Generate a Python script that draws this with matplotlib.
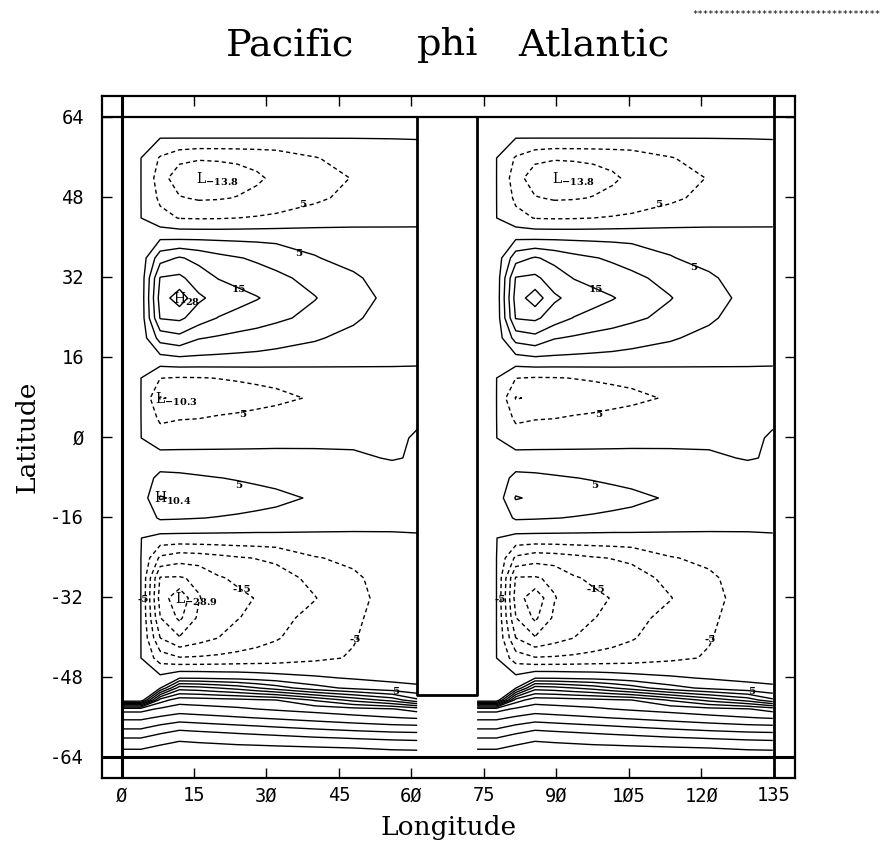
import numpy as np
import matplotlib.pyplot as plt

plt.rcParams['mathtext.fontset'] = 'dejavuserif'
plt.rcParams['lines.dashed_pattern'] = [3.0, 2.2]

# basin grid: longitude measured from the western boundary of each basin
lon = [0, 4, 8, 12, 16, 20, 24, 28, 32, 40, 48, 56, 61.2]
b = 0.05  # just above zero outside the gyres

lat_north = [63.8, 59.8]
phi_north = [
    [b, b, b, b, b, b, b, b, b, b, b, b, b],
    [b, b, b, b, b, b, b, b, b, b, b, b, b],
]

lat_subpolar = [55.8, 51.8, 47.8, 43.8]
phi_subpolar = [
    [b, b, -5.5, -8.5, -9.5, -9.4, -9.2, -8.8, -8.2, -5.3, -3.0, -1.2, -0.6],
    [b, b, -7.5, -13.3, -13.8, -13.0, -11.8, -10.6, -9.2, -6.8, -4.8, -2.2, -0.6],
    [b, b, -6.0, -9.6, -10.6, -10.4, -9.8, -9.0, -8.0, -5.8, -3.8, -1.6, -0.4],
    [b, b, -3.5, -5.2, -5.4, -5.3, -5.0, -4.6, -4.1, -3.0, -2.0, -0.9, -0.2],
]

lat_subtrop = [39.8, 35.8, 31.8, 27.8, 23.8, 19.8, 15.8]
phi_subtrop = [
    [b, 2, 4.3, 4.2, 4.2, 4.1, 4.0, 3.9, 3.7, 3.2, 2.4, 1.1, 0.25],
    [b, 2, 13.0, 15.5, 13.5, 11.5, 10.3, 9.3, 8.3, 5.3, 3.3, 1.5, 0.3],
    [b, 2, 20.3, 21.0, 17.5, 14.8, 13.2, 12.2, 11.0, 8.6, 5.8, 2.5, 0.4],
    [b, 2, 22.0, 28.0, 20.8, 18.5, 17.0, 15.3, 13.5, 10.2, 7.0, 3.6, 0.5],
    [b, 2, 20.3, 21.0, 17.5, 14.8, 13.2, 12.2, 11.0, 8.6, 5.8, 2.5, 0.4],
    [b, 2, 12.0, 13.5, 10.3, 9.4, 8.6, 7.9, 7.0, 5.5, 3.6, 1.6, 0.3],
    [b, 2, 3.5, 4.4, 4.2, 4.0, 3.8, 3.6, 3.3, 2.6, 1.8, 0.9, 0.2],
]

lat_trop_n = [11.8, 7.8, 3.8, -0.2]
phi_trop_n = [
    [b, b, -4.9, -5.3, -5.2, -4.9, -4.6, -4.3, -4.0, -3.2, -2.3, -1.2, -0.3],
    [b, b, -10.3, -9.3, -8.3, -7.6, -7.0, -6.4, -5.9, -4.6, -3.2, -1.6, -0.4],
    [b, b, -6.0, -5.3, -5.1, -4.6, -4.3, -3.9, -3.5, -2.7, -1.9, -1.0, -0.2],
    [b, b, -2.5, -2.2, -2.0, -1.8, -1.6, -1.4, -1.2, -0.9, -0.5, -0.3, 0.15],
]

lat_trop_s = [-4.2, -8.2, -12.2, -16.2]
phi_trop_s = [
    [b, 2, 1.7, 1.6, 1.5, 1.4, 1.3, 1.2, 1.1, 0.8, 0.35, -0.15, 0.2],
    [b, 2, 6.5, 6.2, 5.6, 5.1, 4.7, 4.3, 3.9, 3.0, 2.1, 1.1, 0.3],
    [b, 2, 10.4, 9.2, 8.3, 7.6, 7.0, 6.4, 5.9, 4.6, 3.2, 1.6, 0.4],
    [b, 2, 5.6, 5.4, 5.1, 4.8, 4.5, 4.2, 3.9, 3.0, 2.1, 1.1, 0.3],
]

lat_subtrop_s = [-20.2, -24.2, -28.2, -32.2, -36.2, -40.2, -44.2]
phi_subtrop_s = [
    [b, b, -1.5, -1.6, -1.6, -1.6, -1.6, -1.6, -1.5, -1.3, -1.0, -0.5, -0.1],
    [b, b, -11.0, -13.0, -12.5, -11.5, -10.5, -9.8, -9.0, -5.3, -4.0, -2.0, -0.4],
    [b, b, -20.4, -20.5, -19.0, -15.5, -14.2, -13.2, -12.2, -8.6, -5.8, -2.8, -0.5],
    [b, b, -22.0, -28.9, -20.3, -17.5, -16.0, -14.8, -13.5, -10.2, -6.5, -3.0, -0.5],
    [b, b, -19.8, -26.0, -19.0, -16.8, -15.2, -13.8, -11.3, -8.7, -5.8, -2.8, -0.5],
    [b, b, -15.0, -19.5, -17.0, -15.0, -13.2, -11.8, -10.4, -7.3, -5.3, -2.5, -0.4],
    [b, b, -7.5, -9.6, -9.4, -9.0, -8.5, -8.0, -7.5, -6.0, -4.6, -2.2, -0.8],
]

lat_acc = [-48.2, -50.2, -52.6, -54.4, -56.2, -58.2, -60.2, -62.2, -64.2]
phi_acc = [
    [b, b, 1.45, 4.7, 4.5, 4.0, 3.6, 2.9, 2.1, 0.7, -0.42, -1.0, -0.5],
    [b, b, 4.7, 22.8, 21.9, 20.0, 18.1, 15.3, 12.5, 6.9, 3.8, 1.5, 0.3],
    [b, b, 32.5, 37.75, 37.4, 36.9, 36.4, 35.7, 35.0, 29.4, 23.4, 18.0, 11.0],
    [38.0, 38.0, 40.8, 42.4, 41.8, 41.3, 40.8, 40.0, 39.3, 38.0, 36.6, 35.3, 32.9],
    [44.0, 44.0, 45.9, 47.5, 46.9, 46.25, 45.6, 45.0, 44.4, 43.1, 41.7, 40.4, 39.7],
    [49.5, 49.5, 51.9, 53.75, 53.1, 52.5, 51.9, 51.25, 50.6, 49.4, 48.3, 47.3, 47.0],
    [55.0, 55.0, 57.25, 59.2, 58.7, 58.2, 57.6, 57.1, 56.6, 55.5, 54.7, 54.0, 53.7],
    [59.5, 59.5, 61.1, 61.6, 61.5, 61.4, 61.2, 61.1, 60.9, 60.5, 60.0, 59.25, 59.0],
    [63.5, 63.5, 63.5, 63.5, 63.5, 63.5, 63.5, 63.5, 63.5, 63.5, 63.5, 63.5, 63.5],
]

neg_levels = [-25, -20, -15, -10, -5]
pos_levels = [0, 5, 10, 15, 20, 25, 30, 35, 40, 45, 50, 55, 60]

# basin geometry
basin_offsets = [0, 73.6]          # Pacific, Atlantic west boundaries
pac_east, atl_west, atl_east = 61.2, 73.6, 135
ridge_south = -51.6
lat_edge = 64

# contour labels (lon from basin west boundary, lat, text)
pac_labels = [(37.4, 46.5, '5'), (36.6, 36.7, '5'), (24.3, 29.5, '15'),
              (25.1, 4.5, '5'), (24.2, -9.8, '5'), (4.5, -32.6, '-5'),
              (24.9, -30.6, '-15'), (48.3, -40.6, '-5'), (56.8, -50.9, '5')]
atl_labels = [(37.5, 46.5, '5'), (44.8, 34.0, '5'), (24.6, 29.5, '15'),
              (25.1, 4.5, '5'), (24.4, -9.8, '5'), (4.8, -32.6, '-5'),
              (24.6, -30.6, '-15'), (48.3, -40.6, '-5'), (56.9, -50.9, '5')]
pac_extrema = [(15.4, 51.5, 'L', '-13.8'), (10.6, 27.6, 'H', '28'),
               (6.9, 7.6, 'L', '-10.3'), (6.8, -12.3, 'H', '10.4'),
               (11.0, -32.4, 'L', '-28.9')]
atl_extrema = [(15.4, 51.5, 'L', '-13.8')]

lat = lat_north + lat_subpolar + lat_subtrop + lat_trop_n + lat_trop_s + lat_subtrop_s + lat_acc
phi = np.array(phi_north + phi_subpolar + phi_subtrop + phi_trop_n + phi_trop_s + phi_subtrop_s + phi_acc)
lat = np.array(lat)[::-1]
phi = phi[::-1]

fig = plt.figure(figsize=(8.85, 8.61), dpi=100)
ax = fig.add_axes([102 / 885, 1 - 778 / 861, 693 / 885, 682 / 861])

for off in basin_offsets:
    x = np.array(lon) + off
    ax.contour(x, lat, phi, levels=neg_levels, colors='k', linewidths=1.0,
               linestyles='dashed')
    ax.contour(x, lat, phi, levels=pos_levels, colors='k', linewidths=1.0,
               linestyles='solid')

# coast lines and frame lines
ax.axhline(lat_edge, color='k', lw=1.6)
ax.axhline(-lat_edge, color='k', lw=2.2)
ax.axvline(0, color='k', lw=2.2)
ax.axvline(atl_east, color='k', lw=2.0)
ax.plot([pac_east, pac_east, atl_west, atl_west],
        [lat_edge, ridge_south, ridge_south, lat_edge], color='k', lw=2.0)

lab_kw = dict(fontsize=7.5, fontweight='bold', family='DejaVu Serif',
              ha='center', va='center')
for off, labs in zip(basin_offsets, [pac_labels, atl_labels]):
    for lo, la, t in labs:
        ax.text(lo + off, la, t, **lab_kw)
for off, ext in zip(basin_offsets, [pac_extrema, atl_extrema]):
    for lo, la, c, v in ext:
        ax.text(lo + off, la, r'$\mathrm{%s}_{\mathbf{%s}}$' % (c, v),
                fontsize=10, ha='left', va='center')

ax.set_xlim(-4.04, 139.4)
ax.set_ylim(-68.2, 68.2)
ax.set_xticks(range(0, 136, 15))
ax.set_xticklabels(['Ø', '15', '3Ø', '45', '6Ø', '75', '9Ø', '1Ø5', '12Ø', '135'])
ax.set_yticks(range(-64, 65, 16))
ax.set_yticklabels(['-64', '-48', '-32', '-16', 'Ø', '16', '32', '48', '64'])
ax.tick_params(direction='in', length=7, width=1.0, top=True, right=True,
               labelsize=13.5)
ax.tick_params(axis='x', pad=6)
ax.tick_params(axis='y', pad=13)
for lab in ax.get_xticklabels() + ax.get_yticklabels():
    lab.set_family('DejaVu Sans Mono')
for sp in ax.spines.values():
    sp.set_linewidth(1.6)

ax.set_xlabel('Longitude', fontsize=19, family='DejaVu Serif', labelpad=7)
ax.set_ylabel('Latitude', fontsize=19, family='DejaVu Serif', labelpad=8)

for word, xc in [('Pacific', 290), ('phi', 448), ('Atlantic', 594)]:
    fig.text(xc / 885, 1 - 55 / 861, word, ha='center', va='baseline',
             fontsize=27.5, family='DejaVu Serif')
fig.text(692 / 885, 1 - 17 / 861, '*' * 35, fontsize=6.5,
         family='DejaVu Sans Mono', va='baseline')

fig.savefig('out.png', dpi=100)
